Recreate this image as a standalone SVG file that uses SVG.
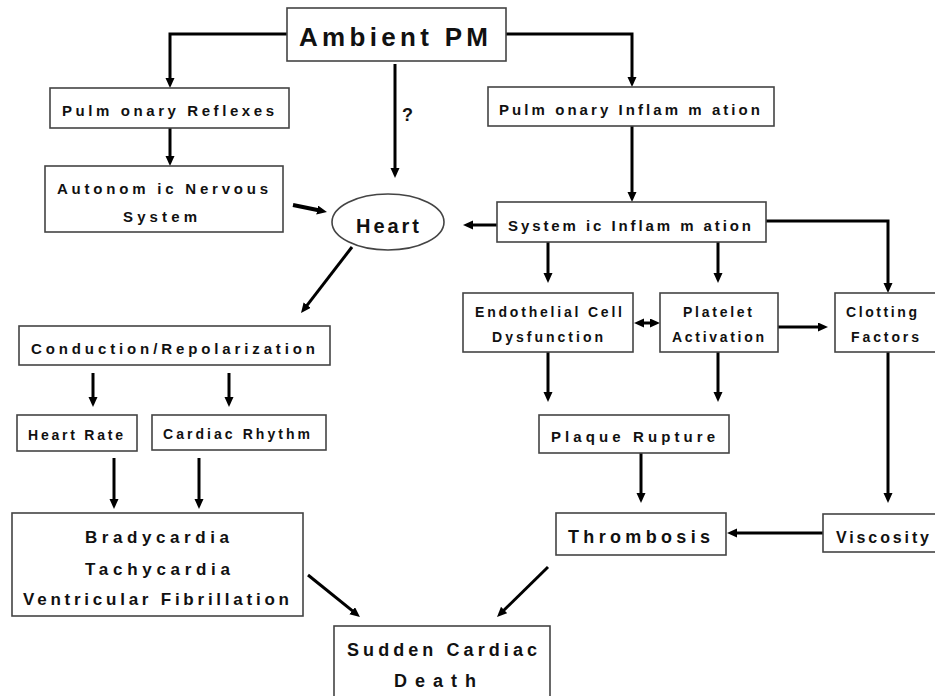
<svg xmlns="http://www.w3.org/2000/svg" width="935" height="696" viewBox="0 0 935 696">
<style>
.box{fill:#fff;stroke:#444;stroke-width:1.6}
.t{font-family:"Liberation Sans",Arial,sans-serif;font-weight:bold;fill:#111}
.c{fill:none;stroke:#000;stroke-width:3}
</style>
<defs>
<marker id="ah" markerUnits="userSpaceOnUse" markerWidth="12" markerHeight="10" refX="4" refY="4.5" orient="auto-start-reverse">
<path d="M0,0 L10,4.5 L0,9 z" fill="#000"/>
</marker>
</defs>
<rect width="935" height="696" fill="#fff"/>
<g id="connectors">
<path class="c" d="M287,34 H170 V82" marker-end="url(#ah)"/>
<path class="c" d="M506,34 H632 V81" marker-end="url(#ah)"/>
<path class="c" d="M395,64 V172" marker-end="url(#ah)"/>
<path class="c" d="M170,128 V160" marker-end="url(#ah)"/>
<path class="c" style="stroke-width:4" d="M293,205 L321.1,210.8" marker-end="url(#ah)"/>
<path class="c" d="M632,126 V196" marker-end="url(#ah)"/>
<path class="c" d="M497,225 H469" marker-end="url(#ah)"/>
<path class="c" d="M766,221 H888 V287" marker-end="url(#ah)"/>
<path class="c" d="M352,247 L304.7,308.3" marker-end="url(#ah)"/>
<path class="c" d="M548,242 V277" marker-end="url(#ah)"/>
<path class="c" d="M718,242 V277" marker-end="url(#ah)"/>
<path class="c" d="M640,323 H654" marker-start="url(#ah)" marker-end="url(#ah)"/>
<path class="c" d="M778,327 H822" marker-end="url(#ah)"/>
<path class="c" d="M548,352 V396" marker-end="url(#ah)"/>
<path class="c" d="M718,352 V396" marker-end="url(#ah)"/>
<path class="c" d="M888,352 V497" marker-end="url(#ah)"/>
<path class="c" d="M641,453 V497" marker-end="url(#ah)"/>
<path class="c" d="M823,533 H733" marker-end="url(#ah)"/>
<path class="c" d="M548,567 L501.3,612.8" marker-end="url(#ah)"/>
<path class="c" d="M93,373 V401" marker-end="url(#ah)"/>
<path class="c" d="M229,373 V401" marker-end="url(#ah)"/>
<path class="c" d="M114,458 V503" marker-end="url(#ah)"/>
<path class="c" d="M199,458 V503" marker-end="url(#ah)"/>
<path class="c" d="M308,575 L355.3,613.2" marker-end="url(#ah)"/>
<text class="t" x="402" y="121" font-size="18">?</text>
</g>
<g id="ambient-pm">
<rect class="box" x="287" y="8" width="219" height="53"/>
<text class="t" x="299" y="46" font-size="26" textLength="189" lengthAdjust="spacing">Ambient PM</text>
</g>
<g id="pulmonary-reflexes">
<rect class="box" x="50" y="88" width="239" height="40"/>
<text class="t" x="62" y="116" font-size="15" textLength="212" lengthAdjust="spacing">Pulm onary Reflexes</text>
</g>
<g id="autonomic-nervous-system">
<rect class="box" x="45" y="166" width="238" height="66"/>
<text class="t" x="57" y="194" font-size="15" textLength="211" lengthAdjust="spacing">Autonom ic Nervous</text>
<text class="t" x="123" y="222" font-size="15" textLength="74" lengthAdjust="spacing">System</text>
</g>
<g id="heart">
<ellipse cx="388" cy="222" rx="56" ry="28" fill="#fff" stroke="#444" stroke-width="1.6"/>
<text class="t" x="356" y="233" font-size="20" textLength="63" lengthAdjust="spacing">Heart</text>
</g>
<g id="pulmonary-inflammation">
<rect class="box" x="488" y="87" width="286" height="39"/>
<text class="t" x="499" y="115" font-size="15" textLength="261" lengthAdjust="spacing">Pulm onary Inflam m ation</text>
</g>
<g id="systemic-inflammation">
<rect class="box" x="497" y="202" width="269" height="40"/>
<text class="t" x="508" y="231" font-size="15" textLength="243" lengthAdjust="spacing">System ic Inflam m ation</text>
</g>
<g id="endothelial-cell-dysfunction">
<rect class="box" x="463" y="293" width="170" height="59"/>
<text class="t" x="475" y="317" font-size="14" textLength="147" lengthAdjust="spacing">Endothelial Cell</text>
<text class="t" x="492" y="342" font-size="14" textLength="111" lengthAdjust="spacing">Dysfunction</text>
</g>
<g id="platelet-activation">
<rect class="box" x="660" y="293" width="118" height="59"/>
<text class="t" x="683" y="317" font-size="14" textLength="69" lengthAdjust="spacing">Platelet</text>
<text class="t" x="672" y="342" font-size="14" textLength="92" lengthAdjust="spacing">Activation</text>
</g>
<g id="clotting-factors">
<rect class="box" x="835" y="293" width="110" height="59"/>
<text class="t" x="846" y="317" font-size="14" textLength="71" lengthAdjust="spacing">Clotting</text>
<text class="t" x="851" y="342" font-size="14" textLength="68" lengthAdjust="spacing">Factors</text>
</g>
<g id="plaque-rupture">
<rect class="box" x="539" y="415" width="190" height="38"/>
<text class="t" x="551" y="442" font-size="15" textLength="164" lengthAdjust="spacing">Plaque Rupture</text>
</g>
<g id="thrombosis">
<rect class="box" x="556" y="513" width="170" height="42"/>
<text class="t" x="568" y="543" font-size="18" textLength="142" lengthAdjust="spacing">Thrombosis</text>
</g>
<g id="viscosity">
<rect class="box" x="823" y="514" width="122" height="38"/>
<text class="t" x="836" y="543" font-size="16" textLength="93" lengthAdjust="spacing">Viscosity</text>
</g>
<g id="conduction-repolarization">
<rect class="box" x="19" y="326" width="311" height="39"/>
<text class="t" x="31" y="354" font-size="15" textLength="284" lengthAdjust="spacing">Conduction/Repolarization</text>
</g>
<g id="heart-rate">
<rect class="box" x="17" y="415" width="120" height="36"/>
<text class="t" x="28" y="440" font-size="14" textLength="95" lengthAdjust="spacing">Heart Rate</text>
</g>
<g id="cardiac-rhythm">
<rect class="box" x="152" y="415" width="174" height="35"/>
<text class="t" x="163" y="439" font-size="14" textLength="147" lengthAdjust="spacing">Cardiac Rhythm</text>
</g>
<g id="arrhythmias">
<rect class="box" x="12" y="513" width="291" height="103"/>
<text class="t" x="85" y="543" font-size="17" textLength="144" lengthAdjust="spacing">Bradycardia</text>
<text class="t" x="85" y="575" font-size="17" textLength="145" lengthAdjust="spacing">Tachycardia</text>
<text class="t" x="23" y="605" font-size="17" textLength="266" lengthAdjust="spacing">Ventricular Fibrillation</text>
</g>
<g id="sudden-cardiac-death">
<rect class="box" x="334" y="626" width="216" height="80"/>
<text class="t" x="347" y="656" font-size="18" textLength="190" lengthAdjust="spacing">Sudden Cardiac</text>
<text class="t" x="394" y="687" font-size="18" textLength="82" lengthAdjust="spacing">Death</text>
</g>
</svg>
